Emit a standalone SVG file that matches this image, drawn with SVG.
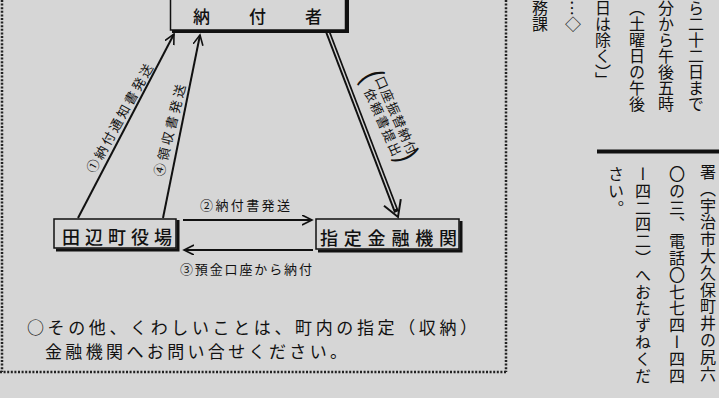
<svg xmlns="http://www.w3.org/2000/svg" width="719" height="398" viewBox="0 0 719 398">
  <style>
    .t { font-family: "Noto Sans CJK JP", "Noto Sans", sans-serif; fill: #111; }
    .box { fill: #d6d6d6; stroke: #111; stroke-width: 1.5; }
    .shadow { fill: none; stroke: #111; stroke-width: 3; }
    .ln { stroke: #111; stroke-width: 2; fill: none; }
    .dot { stroke: #222; stroke-width: 2.5; stroke-dasharray: 2 1.6; fill: none; }
    .v { font-family: "Noto Sans CJK JP", sans-serif; fill: #111; font-size: 16px; writing-mode: vertical-rl; }
  </style>
  <defs>
    <marker id="arr" markerUnits="userSpaceOnUse" markerWidth="12" markerHeight="12" refX="10" refY="5" orient="auto">
      <path d="M0,0 L10,5 L0,10" fill="none" stroke="#111" stroke-width="1.6"/>
    </marker>
  </defs>
  <rect x="0" y="0" width="719" height="398" fill="#d6d6d6"/>

  <!-- frame of the boxed article -->
  <g id="frame">
    <line class="dot" x1="2" y1="0" x2="2" y2="372"/>
    <line class="dot" x1="0" y1="372" x2="506" y2="372"/>
    <line class="dot" x1="506" y1="0" x2="506" y2="372"/>
  </g>

  <!-- connectors -->
  <g id="connectors">
    <line class="ln" x1="78" y1="218" x2="174" y2="34" marker-end="url(#arr)"/>
    <line class="ln" x1="163" y1="218" x2="200" y2="35" marker-end="url(#arr)"/>
    <line class="ln" x1="183" y1="220" x2="312" y2="220" marker-end="url(#arr)"/>
    <line class="ln" x1="313" y1="250" x2="184" y2="250" marker-end="url(#arr)"/>
    <line x1="327" y1="30" x2="396.5" y2="212" stroke="#111" stroke-width="5"/>
    <line x1="327.5" y1="31" x2="395.5" y2="209" stroke="#d6d6d6" stroke-width="1.4"/>
    <polyline points="384,205.7 398,217 400.8,199.2" fill="none" stroke="#111" stroke-width="2"/>
  </g>

  <!-- nodes -->
  <g id="node-payer">
    <rect class="box" x="170.5" y="-5" width="175" height="35"/>
    <polyline class="shadow" points="172,31.5 347.5,31.5 347.5,-5"/>
    <text class="t" x="193" y="23" font-size="17" font-weight="500" textLength="129" lengthAdjust="spacing">納付者</text>
  </g>
  <g id="node-town">
    <rect class="box" x="54" y="219" width="122" height="29"/>
    <polyline class="shadow" points="56,250 178,250 178,220"/>
    <text class="t" x="62" y="243.5" font-size="18" font-weight="500" textLength="110" lengthAdjust="spacing">田辺町役場</text>
  </g>
  <g id="node-bank">
    <rect class="box" x="316" y="219" width="143" height="30"/>
    <polyline class="shadow" points="318,251 461,251 461,221"/>
    <text class="t" x="320" y="244.5" font-size="18" font-weight="500" textLength="137" lengthAdjust="spacing">指定金融機関</text>
  </g>

  <!-- connector labels -->
  <g id="labels">
    <text class="t" font-size="13" text-anchor="middle" y="4.5" textLength="122" lengthAdjust="spacing" transform="translate(120,118.5) rotate(-61)">①納付通知書発送</text>
    <text class="t" font-size="13" text-anchor="middle" y="4.5" textLength="94" lengthAdjust="spacing" transform="translate(170,130.5) rotate(-76)">④領収書発送</text>
    <text class="t" font-size="13" x="200" y="210" textLength="90" lengthAdjust="spacing">②納付書発送</text>
    <text class="t" font-size="13" x="180" y="274" textLength="132" lengthAdjust="spacing">③預金口座から納付</text>
    <g transform="translate(385,118) rotate(66)">
      <text class="t" font-size="13" text-anchor="middle" x="2" y="-6.5" textLength="84" lengthAdjust="spacing">口座振替納付</text>
      <text class="t" font-size="13" text-anchor="middle" x="3" y="8.5" textLength="72" lengthAdjust="spacing">依頼書提出</text>
      <text class="t" font-family="Liberation Sans, sans-serif" font-size="30" text-anchor="middle" x="-44" y="6">(</text>
      <text class="t" font-family="Liberation Sans, sans-serif" font-size="30" text-anchor="middle" x="44" y="6">)</text>
    </g>
  </g>

  <!-- note -->
  <g id="note">
    <text class="t" font-size="17" x="27" y="334" textLength="450" lengthAdjust="spacing">○その他、くわしいことは、町内の指定（収納）</text>
    <text class="t" font-size="17" x="45" y="358" textLength="302" lengthAdjust="spacing">金融機関へお問い合せください。</text>
  </g>

  <!-- neighbouring newspaper columns -->
  <g id="columns">
    <text class="v" x="696" y="0">ら二十二日まで</text>
    <text class="v" x="666" y="0">分から午後五時</text>
    <text class="v" x="637" y="0">（土曜日の午後</text>
    <text class="v" x="603" y="0">日は除く）」</text>
    <text class="v" x="573" y="0">…◇</text>
    <text class="v" x="540" y="0">務課</text>
    <line x1="597" y1="151.5" x2="719" y2="151.5" stroke="#111" stroke-width="4"/>
    <text class="v" x="708" y="164" style="letter-spacing:0.8px">署（宇治市大久保町井の尻六</text>
    <text class="v" x="677" y="166" style="letter-spacing:0.8px">〇の三、電話〇七七四ー四四</text>
    <text class="v" x="643" y="166" style="letter-spacing:0.8px">ー四二四二）へおたずねくだ</text>
    <text class="v" x="616" y="166" style="letter-spacing:0.8px">さい。</text>
  </g>
</svg>
